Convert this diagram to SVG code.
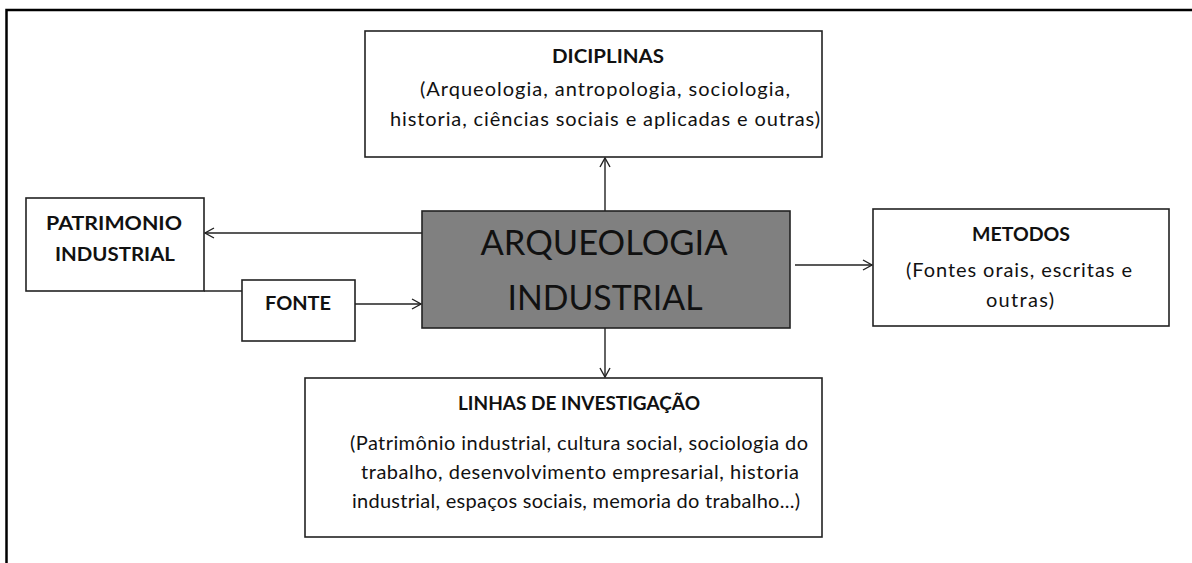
<svg xmlns="http://www.w3.org/2000/svg" width="1192" height="563" viewBox="0 0 1192 563">
<defs>
<marker id="arr" markerWidth="12" markerHeight="12" refX="10" refY="6" orient="auto" markerUnits="userSpaceOnUse">
<polyline points="1,1 10,6 1,11" fill="none" stroke="#222" stroke-width="1.4"/>
</marker>
<style>
.box{fill:#fff;stroke:#222;stroke-width:1.6}
.core{fill:#808080;stroke:#222;stroke-width:1.6}
.t{font-family:Lato,"Liberation Sans",sans-serif;fill:#111;text-anchor:middle}
.b{font-weight:bold;font-size:19.5px}
.n{font-size:20px}
.big{font-size:35px}
.c{fill:none;stroke:#222;stroke-width:1.4}
</style>
</defs>
<rect width="1192" height="563" fill="#fff"/>
<g id="frame"><path d="M6.5,563 V10 H1192" fill="none" stroke="#000" stroke-width="2.5"/></g>
<g id="connectors">
<line class="c" x1="605" y1="211" x2="605" y2="158" marker-end="url(#arr)"/>
<line class="c" x1="605" y1="328" x2="605" y2="377" marker-end="url(#arr)"/>
<line class="c" x1="422" y1="233" x2="205" y2="233" marker-end="url(#arr)"/>
<line class="c" x1="355" y1="304" x2="421" y2="304" marker-end="url(#arr)"/>
<line class="c" x1="795" y1="265" x2="872" y2="265" marker-end="url(#arr)"/>
<line class="c" x1="204" y1="291" x2="242" y2="291"/>
</g>
<g id="diciplinas">
<rect class="box" x="365" y="31" width="457" height="126"/>
<text class="t b" x="608" y="63" textLength="112" lengthAdjust="spacingAndGlyphs">DICIPLINAS</text>
<text class="t n" x="605" y="96" textLength="370" lengthAdjust="spacing">(Arqueologia, antropologia, sociologia,</text>
<text class="t n" x="605" y="126" textLength="430" lengthAdjust="spacing">historia, ciências sociais e aplicadas e outras)</text>
</g>
<g id="arqueologia">
<rect class="core" x="422" y="211" width="368" height="117"/>
<text class="t big" x="604" y="255" textLength="247" lengthAdjust="spacingAndGlyphs">ARQUEOLOGIA</text>
<text class="t big" x="605" y="310" textLength="195" lengthAdjust="spacingAndGlyphs">INDUSTRIAL</text>
</g>
<g id="patrimonio">
<rect class="box" x="26" y="198" width="178" height="93"/>
<text class="t b" x="114" y="230" textLength="136" lengthAdjust="spacingAndGlyphs">PATRIMONIO</text>
<text class="t b" x="115" y="261" textLength="120" lengthAdjust="spacingAndGlyphs">INDUSTRIAL</text>
</g>
<g id="fonte">
<rect class="box" x="242" y="280" width="113" height="61"/>
<text class="t b" x="298" y="310" textLength="66" lengthAdjust="spacingAndGlyphs">FONTE</text>
</g>
<g id="metodos">
<rect class="box" x="873" y="209" width="296" height="117"/>
<text class="t b" x="1021" y="241" textLength="98" lengthAdjust="spacingAndGlyphs">METODOS</text>
<text class="t n" x="1019" y="277" textLength="226" lengthAdjust="spacing">(Fontes orais, escritas e</text>
<text class="t n" x="1020" y="307" textLength="68" lengthAdjust="spacing">outras)</text>
</g>
<g id="linhas">
<rect class="box" x="305" y="378" width="517" height="159"/>
<text class="t b" x="579" y="410" textLength="242" lengthAdjust="spacingAndGlyphs">LINHAS DE INVESTIGAÇÃO</text>
<text class="t n" x="579" y="450" textLength="458" lengthAdjust="spacing">(Patrimônio industrial, cultura social, sociologia do</text>
<text class="t n" x="580" y="479" textLength="438" lengthAdjust="spacing">trabalho, desenvolvimento empresarial, historia</text>
<text class="t n" x="576" y="508" textLength="448" lengthAdjust="spacing">industrial, espaços sociais, memoria do trabalho...)</text>
</g>
</svg>
